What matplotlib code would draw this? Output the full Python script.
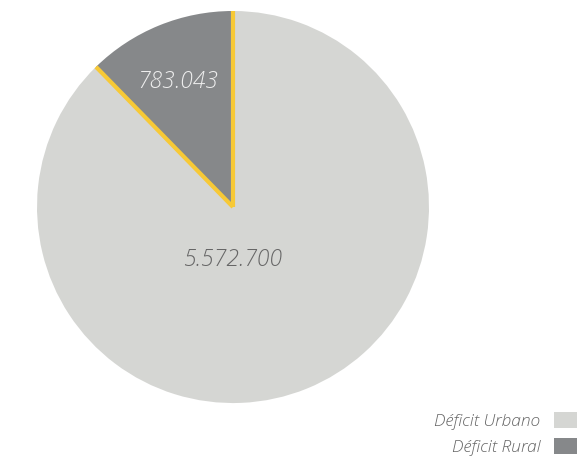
import numpy as np
import matplotlib
matplotlib.use("Agg")
import matplotlib.pyplot as plt
from matplotlib.patches import Patch

# deficit habitacional, urbano vs rural
categorias = ["Déficit Rural", "Déficit Urbano"]
valores = [783043, 5572700]
etiquetas = ["783.043", "5.572.700"]
cores = ["#86888a", "#d5d6d3"]
amarelo = "#f7c936"

plt.rcParams["font.family"] = ["Open Sans", "DejaVu Sans"]

fig = plt.figure(figsize=(5.82, 4.58), dpi=100)
ax = fig.add_axes([0.0636, 0.120, 0.6735, 0.856])

wedges, _ = ax.pie(valores, colors=cores, startangle=90, counterclock=True,
                   wedgeprops=dict(linewidth=0))
ax.set_xlim(-1, 1)
ax.set_ylim(-1, 1)
ax.set_aspect("auto")

# yellow borders on the radial edges of the rural slice
frac = valores[0] / sum(valores)
for ang in [90, 90 + 360 * frac]:
    t = np.deg2rad(ang)
    ax.plot([0, np.cos(t)], [0, np.sin(t)], color=amarelo, lw=3,
            solid_capstyle="butt", zorder=3)

mid = np.deg2rad(90 + 180 * frac)
ax.text(0.74 * np.cos(mid), 0.69 * np.sin(mid), etiquetas[0], ha="center", va="center",
        fontsize=16.5, style="italic", fontweight="light", color="#eeeeee")
ax.text(0.0, -0.27, etiquetas[1], ha="center", va="center",
        fontsize=16.5, style="italic", fontweight="light", color="#666666")

handles = [Patch(facecolor=cores[1], label=categorias[1]),
           Patch(facecolor=cores[0], label=categorias[0])]
leg = fig.legend(handles=handles, loc="lower right", bbox_to_anchor=(1.018, -0.03),
                 frameon=False, markerfirst=False, handlelength=1.3, handleheight=1.0,
                 handletextpad=0.8, labelspacing=0.5,
                 prop=dict(family="Open Sans", style="italic", size=12.5, weight="light"))
for t in leg.get_texts():
    t.set_color("#666666")

fig.savefig("out.png", dpi=100)
